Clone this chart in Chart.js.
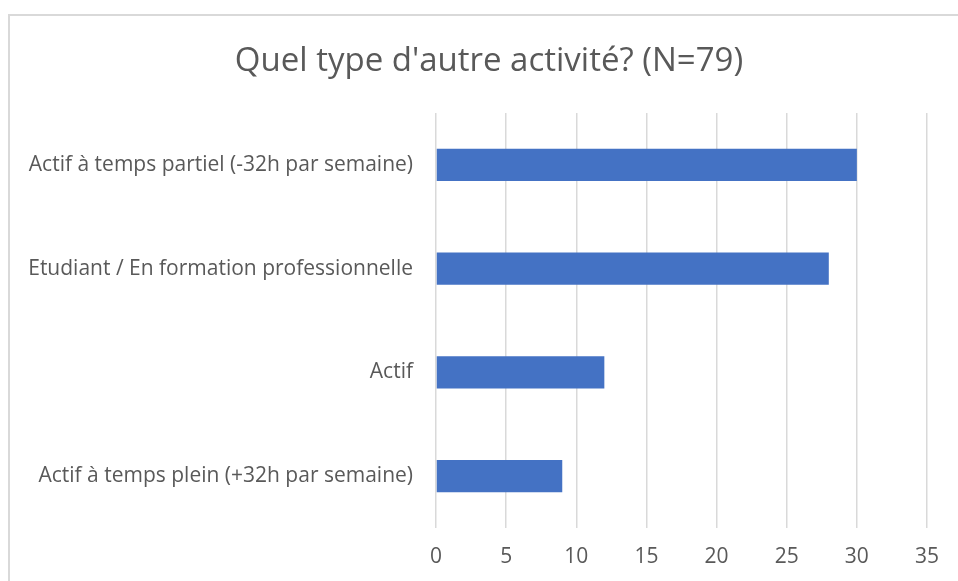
<!DOCTYPE html>
<html><head><meta charset="utf-8">
<script src="https://cdn.jsdelivr.net/npm/chart.js@4/dist/chart.umd.min.js"></script>
<style>
html,body{margin:0;padding:0;background:#fff;overflow:hidden}
#wrap{position:absolute;left:0;top:0;width:958px;height:581px}
#frame{position:absolute;left:8px;top:14px;width:1000px;height:700px;border-left:2px solid #d9d9d9;border-top:2px solid #d9d9d9;pointer-events:none}
canvas{position:absolute;left:0;top:0}
</style></head>
<body>
<div id="wrap"><div id="frame"></div><canvas id="c" width="958" height="581"></canvas></div>
<script>
const categories = ["Actif à temps partiel (-32h par semaine)", "Etudiant / En formation professionnelle", "Actif", "Actif à temps plein (+32h par semaine)"];
const values = [30, 28, 12, 9];
const xTicks = [0, 5, 10, 15, 20, 25, 30, 35];
const titleText = "Quel type d'autre activité? (N=79)";

const FONT = "'Open Sans', sans-serif";
const titlePlugin = {
  id: 'centeredTitle',
  afterDraw(chart) {
    const ctx = chart.ctx;
    ctx.save();
    ctx.font = "33px " + FONT;
    ctx.fillStyle = '#595959';
    ctx.textAlign = 'center';
    ctx.textBaseline = 'middle';
    ctx.fillText(titleText, 489, 62);
    ctx.restore();
  }
};
new Chart(document.getElementById('c'), {
  type: 'bar',
  data: { labels: categories, datasets: [{ data: values, backgroundColor: '#4472C4', borderWidth: 0, categoryPercentage: 1, barPercentage: 0.31 }] },
  options: {
    indexAxis: 'y', responsive: false, animation: false,
    layout: { padding: { left: 20, right: 31, top: 113, bottom: 0 } },
    plugins: {
      legend: { display: false }, tooltip: { enabled: false }, title: { display: false }
    },
    scales: {
      x: {
        min: 0, max: 35,
        afterBuildTicks: s => { s.ticks = xTicks.map(v => ({ value: v })); },
        afterFit: s => { s.height = 53; },
        grid: { color: '#d9d9d9', lineWidth: 1.5, drawTicks: false },
        border: { display: false },
        ticks: { color: '#595959', font: { family: FONT, size: 21 }, padding: 16 }
      },
      y: {
        afterFit: s => { s.width = 416; },
        grid: { display: false, drawTicks: false },
        border: { display: false },
        ticks: { color: '#595959', font: { family: FONT, size: 21 }, padding: 23 }
      }
    }
  },
  plugins: [titlePlugin]
});
</script>
</body></html>
